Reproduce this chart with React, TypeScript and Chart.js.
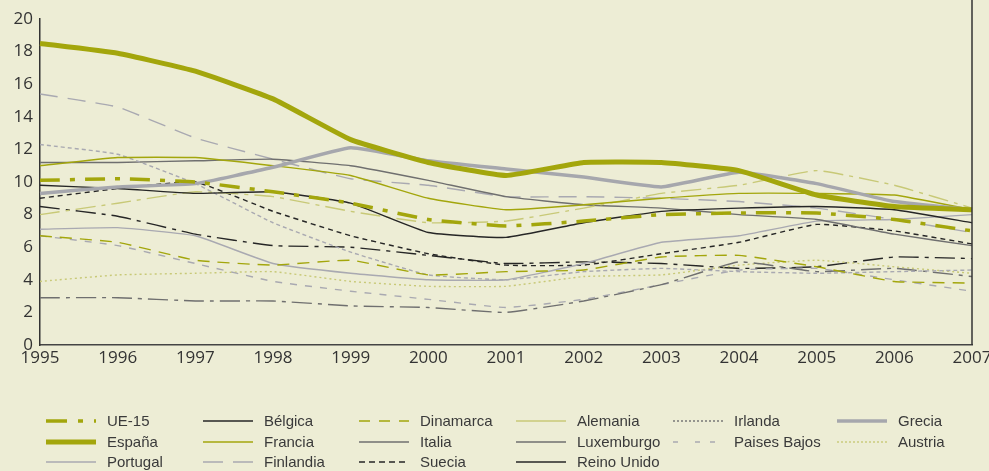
import { useEffect, useRef } from 'react';
import { Chart, registerables } from 'chart.js';

Chart.register(...registerables);

const years = ['1995', '1996', '1997', '1998', '1999', '2000', '2001', '2002', '2003', '2004', '2005', '2006', '2007'];
const yTicks = [0, 2, 4, 6, 8, 10, 12, 14, 16, 18, 20];

const ue15 = [10.1, 10.2, 10.0, 9.4, 8.7, 7.7, 7.3, 7.6, 8.0, 8.1, 8.1, 7.7, 7.0];
const belgica = [9.8, 9.6, 9.3, 9.4, 8.7, 6.9, 6.6, 7.5, 8.2, 8.4, 8.5, 8.3, 7.5];
const dinamarca = [6.7, 6.3, 5.2, 4.9, 5.2, 4.3, 4.5, 4.6, 5.4, 5.5, 4.8, 3.9, 3.8];
const alemania = [8.0, 8.7, 9.4, 9.1, 8.2, 7.5, 7.6, 8.4, 9.3, 9.8, 10.7, 9.8, 8.4];
const irlanda = [12.3, 11.7, 9.9, 7.5, 5.7, 4.3, 4.0, 4.5, 4.7, 4.5, 4.4, 4.5, 4.6];
const grecia = [9.3, 9.7, 9.9, 10.9, 12.1, 11.3, 10.8, 10.3, 9.7, 10.6, 9.9, 8.8, 8.3];
const espana = [18.5, 17.9, 16.8, 15.1, 12.6, 11.2, 10.4, 11.2, 11.2, 10.7, 9.2, 8.5, 8.3];
const francia = [11.0, 11.5, 11.5, 11.0, 10.4, 9.0, 8.3, 8.6, 9.0, 9.3, 9.3, 9.2, 8.3];
const italia = [11.2, 11.2, 11.3, 11.4, 11.0, 10.1, 9.1, 8.6, 8.4, 8.0, 7.7, 6.8, 6.1];
const luxemburgo = [2.9, 2.9, 2.7, 2.7, 2.4, 2.3, 2.0, 2.7, 3.7, 5.1, 4.5, 4.7, 4.2];
const paisesBajos = [6.7, 6.1, 5.0, 3.9, 3.3, 2.8, 2.3, 2.8, 3.7, 4.6, 4.7, 4.0, 3.3];
const austria = [3.9, 4.3, 4.4, 4.5, 3.9, 3.6, 3.6, 4.2, 4.3, 4.9, 5.2, 4.8, 4.4];
const portugal = [7.1, 7.2, 6.7, 5.0, 4.4, 4.0, 4.0, 5.0, 6.3, 6.7, 7.6, 7.7, 8.0];
const finlandia = [15.4, 14.6, 12.7, 11.4, 10.2, 9.8, 9.1, 9.1, 9.0, 8.8, 8.4, 7.7, 6.9];
const suecia = [9.0, 9.6, 10.0, 8.2, 6.7, 5.6, 4.9, 4.9, 5.6, 6.3, 7.4, 7.0, 6.2];
const reinoUnido = [8.5, 7.9, 6.8, 6.1, 6.0, 5.5, 5.0, 5.1, 5.0, 4.7, 4.8, 5.4, 5.3];

const OLIVE = '#a3a60c';
const LOLIVE = '#c8c977';
const LGREY = '#a9a9b1';
const DGREY = '#6f6f6f';
const BLACK = '#262626';
const BG = '#ededd5';
const TICK_FONT = '"Open Sans", "DejaVu Sans Condensed", sans-serif';

type S = {
  label: string;
  data: number[];
  color: string;
  width: number;
  dash: number[];
  legendDash: number[];
  legendColor?: string;
  order: number;
};

const series: S[] = [
  { label: 'UE-15', data: ue15, color: OLIVE, width: 3.5, dash: [20, 10, 5, 10], legendDash: [21, 11, 5, 11], order: 1 },
  { label: 'Bélgica', data: belgica, color: BLACK, width: 1.4, dash: [], legendDash: [], order: 5 },
  { label: 'Dinamarca', data: dinamarca, color: OLIVE, width: 1.4, dash: [12, 8], legendDash: [11, 9], order: 6 },
  { label: 'Alemania', data: alemania, color: LOLIVE, width: 1.4, dash: [20, 6, 4, 6], legendDash: [], order: 7 },
  { label: 'Irlanda', data: irlanda, color: LGREY, width: 1.4, dash: [4, 3], legendDash: [2, 2], legendColor: DGREY, order: 8 },
  { label: 'Grecia', data: grecia, color: '#a6a7ad', width: 3.5, dash: [], legendDash: [], order: 2 },
  { label: 'España', data: espana, color: OLIVE, width: 5, dash: [], legendDash: [], order: 0 },
  { label: 'Francia', data: francia, color: OLIVE, width: 1.4, dash: [], legendDash: [], order: 4 },
  { label: 'Italia', data: italia, color: DGREY, width: 1.4, dash: [], legendDash: [], order: 9 },
  { label: 'Luxemburgo', data: luxemburgo, color: DGREY, width: 1.4, dash: [20, 6, 4, 6], legendDash: [], order: 10 },
  { label: 'Paises Bajos', data: paisesBajos, color: LGREY, width: 1.4, dash: [7, 8], legendDash: [5, 17, 5, 10], order: 11 },
  { label: 'Austria', data: austria, color: LOLIVE, width: 1.4, dash: [2, 3], legendDash: [2, 2], order: 12 },
  { label: 'Portugal', data: portugal, color: LGREY, width: 1.4, dash: [], legendDash: [], order: 13 },
  { label: 'Finlandia', data: finlandia, color: LGREY, width: 1.4, dash: [18, 10], legendDash: [20, 10], order: 14 },
  { label: 'Suecia', data: suecia, color: BLACK, width: 1.4, dash: [5, 4], legendDash: [6, 4], order: 15 },
  { label: 'Reino Unido', data: reinoUnido, color: BLACK, width: 1.4, dash: [20, 6, 4, 6], legendDash: [], order: 16 },
];

const legendCols = [46, 203, 359, 516, 673, 837];
const legendRows = [421, 442, 462];

const bgPlugin = {
  id: 'bgFill',
  beforeDraw(chart: any) {
    const ctx = chart.ctx;
    ctx.save();
    ctx.fillStyle = BG;
    ctx.fillRect(0, 0, chart.width, chart.height);
    ctx.restore();
  },
};

const framePlugin = {
  id: 'rightFrame',
  afterDraw(chart: any) {
    const ctx = chart.ctx;
    const a = chart.chartArea;
    ctx.save();
    ctx.strokeStyle = '#333333';
    ctx.lineWidth = 1.5;
    ctx.beginPath();
    ctx.moveTo(a.right, 0);
    ctx.lineTo(a.right, a.bottom);
    ctx.stroke();
    ctx.restore();
  },
};

const legendPlugin = {
  id: 'gridLegend',
  afterDraw(chart: any) {
    const ctx = chart.ctx;
    ctx.save();
    series.forEach((s, i) => {
      const x = legendCols[i % 6];
      const y = legendRows[Math.floor(i / 6)];
      ctx.strokeStyle = s.legendColor || s.color;
      ctx.lineWidth = s.width;
      ctx.setLineDash(s.legendDash);
      ctx.lineCap = 'butt';
      ctx.beginPath();
      ctx.moveTo(x, y);
      ctx.lineTo(x + 50, y);
      ctx.stroke();
      ctx.setLineDash([]);
      ctx.fillStyle = '#3a3a3a';
      ctx.font = '15px "Liberation Sans", Arial, sans-serif';
      ctx.textBaseline = 'middle';
      ctx.textAlign = 'left';
      ctx.fillText(s.label, x + 61, y + 1);
    });
    ctx.restore();
  },
};

export default function App() {
  const ref = useRef<HTMLCanvasElement>(null);

  useEffect(() => {
    document.body.style.margin = '0';
    document.body.style.background = BG;
    const canvas = ref.current!;
    const chart = new Chart(canvas, {
      type: 'line',
      data: {
        labels: years,
        datasets: series.map((s) => ({
          label: s.label,
          data: s.data,
          borderColor: s.color,
          backgroundColor: s.color,
          borderWidth: s.width,
          borderDash: s.dash,
          pointRadius: 0,
          pointHoverRadius: 0,
          tension: 0.12,
          fill: false,
          order: s.order,
        })),
      },
      options: {
        animation: false,
        responsive: false,
        maintainAspectRatio: false,
        events: [],
        layout: { padding: { top: 19, right: 17, left: 0, bottom: 0 } },
        plugins: {
          legend: { display: false },
          tooltip: { enabled: false },
        },
        scales: {
          x: {
            type: 'category',
            offset: false,
            grid: { display: false, drawTicks: false },
            border: { display: true, color: '#444444', width: 1.5 },
            ticks: {
              color: '#333333',
              font: { family: TICK_FONT, size: 17 },
              padding: 3,
              maxRotation: 0,
              autoSkip: false,
            },
            afterFit(scale: any) {
              scale.height = 126;
              scale.paddingLeft = 0;
              scale.paddingRight = 0;
            },
          },
          y: {
            min: 0,
            max: 20,
            afterBuildTicks(scale: any) {
              scale.ticks = yTicks.map((v) => ({ value: v }));
            },
            grid: { display: false, drawTicks: false },
            border: { display: true, color: '#333333', width: 1.5 },
            ticks: {
              color: '#333333',
              font: { family: TICK_FONT, size: 17 },
              padding: 7,
            },
            afterFit(scale: any) {
              scale.width = 40;
              scale.paddingTop = 0;
              scale.paddingBottom = 0;
            },
          },
        },
      },
      plugins: [bgPlugin, framePlugin, legendPlugin],
    });
    return () => chart.destroy();
  }, []);

  return (
    <div style={{ width: 989, height: 471, background: BG }}>
      <canvas ref={ref} width={989} height={471} style={{ display: 'block', width: 989, height: 471 }} />
    </div>
  );
}
